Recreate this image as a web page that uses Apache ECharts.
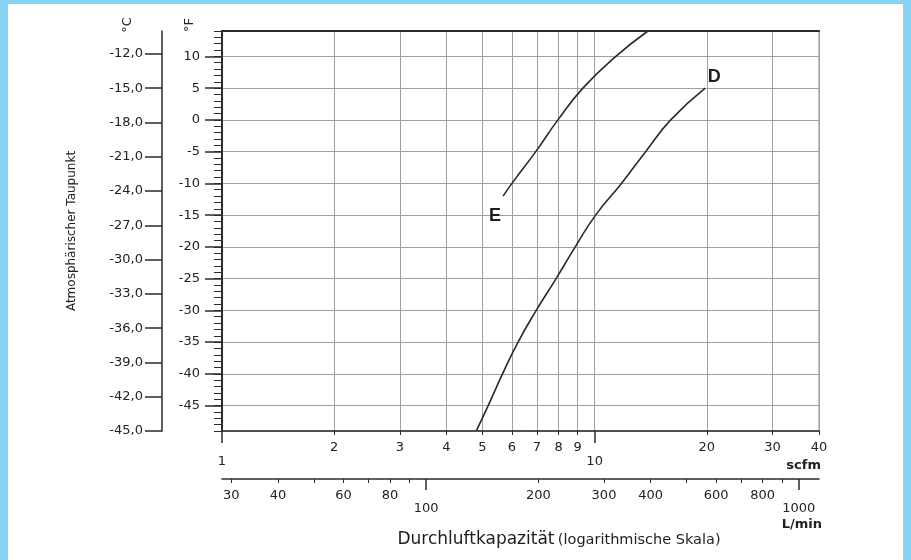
<!DOCTYPE html>
<html><head><meta charset="utf-8">
<script src="https://cdn.jsdelivr.net/npm/echarts@6/dist/echarts.min.js"></script>
<style>
html,body{margin:0;padding:0;background:#86d3f4;width:911px;height:560px;overflow:hidden;}
#chart{position:absolute;left:8px;top:4px;width:895px;height:556px;background:#fff;}
</style></head><body><div id="chart"></div>
<script>
// ---- data ----
const scfmMajorTicks = [1, 10];
const scfmMinorTicks = [2, 3, 4, 5, 6, 7, 8, 9, 20, 30, 40];
const lminMajorTicks = [100, 1000];
const lminMinorTicks = [30, 40, 50, 60, 70, 80, 90, 200, 300, 400, 500, 600, 700, 800, 900];
const lminMinorLabels = [30, 40, 60, 80, 200, 300, 400, 600, 800];
const fahrenheitTicks = [-45, -40, -35, -30, -25, -20, -15, -10, -5, 0, 5, 10];
const celsiusTicks = [-45, -42, -39, -36, -33, -30, -27, -24, -21, -18, -15, -12];
const curveE_scfm = [5.68, 6.0, 6.95, 7.97, 9.3, 11.4, 13.9];
const curveE_degF = [-12, -10, -5, 0, 5, 10, 14];
const curveD_scfm = [4.82, 5.18, 5.66, 6.23, 6.97, 7.88, 8.87, 10.06, 11.8, 13.7, 16.0, 19.8];
const curveD_degF = [-48.9, -45, -40, -35, -30, -25, -20, -15, -10, -5, 0, 5];
const curveNames = ['E', 'D'];

// ---- ranges ----
const LPM_PER_SCFM = 28.3168;
const SCFM_MIN = 1, SCFM_MAX = 40;
const C_MIN = -45, C_MAX = -10;
const F_MIN = C_MIN * 9 / 5 + 32, F_MAX = C_MAX * 9 / 5 + 32;

const FONT = 'DejaVu Sans';
const TXT = '#222';
const DARK = '#2b2b2b';
const GRIDC = '#a0a0a0';

function pairs(xs, ys) { return xs.map((x, i) => [x, ys[i]]); }
const lblStyle = { show: true, fontSize: 18, fontWeight: 'bold', color: '#1e1e1e', fontFamily: 'Liberation Sans' };
const dataE = pairs(curveE_scfm, curveE_degF).map((p, i) => i === 0
  ? { value: p, label: Object.assign({}, lblStyle, { formatter: curveNames[0], position: 'bottom', offset: [-8, 6] }) } : p);
const dataD = pairs(curveD_scfm, curveD_degF).map((p, i, a) => i === a.length - 1
  ? { value: p, label: Object.assign({}, lblStyle, { formatter: curveNames[1], position: 'top', offset: [9, 3] }) } : p);

const hidden = { show: false };
function logX(extra) {
  return Object.assign({
    type: 'log', logBase: 10, min: SCFM_MIN, max: SCFM_MAX, position: 'bottom',
    axisLine: { show: false, onZero: false }, axisTick: hidden, axisLabel: hidden, splitLine: hidden,
    minorTick: hidden, minorSplitLine: hidden
  }, extra);
}
const tickLbl = { fontFamily: FONT, fontSize: 13, color: TXT };

const option = {
  animation: false,
  backgroundColor: '#fff',
  grid: { left: 214, top: 27, width: 597, height: 400, show: true, borderColor: '#888', borderWidth: 1, backgroundColor: 'transparent' },
  xAxis: [
    // scfm major (1, 10)
    logX({
      axisLine: { show: true, onZero: false, lineStyle: { color: DARK, width: 1.5 } },
      axisTick: { show: true, customValues: scfmMajorTicks, length: 12, lineStyle: { color: DARK, width: 1.5 } },
      axisLabel: Object.assign({ show: true, customValues: scfmMajorTicks, margin: 10, lineHeight: 14, formatter: v => '\n' + v }, tickLbl),
      splitLine: { show: true, lineStyle: { color: GRIDC, width: 1 } }
    }),
    // scfm minor
    logX({
      axisTick: { show: true, customValues: scfmMinorTicks, length: 4, lineStyle: { color: DARK, width: 1 } },
      axisLabel: Object.assign({ show: true, customValues: scfmMinorTicks, margin: 10, lineHeight: 14 }, tickLbl),
      splitLine: { show: true, lineStyle: { color: GRIDC, width: 1 } }
    }),
    // L/min major
    logX({
      min: SCFM_MIN * LPM_PER_SCFM, max: SCFM_MAX * LPM_PER_SCFM, offset: 48,
      axisLine: { show: true, onZero: false, lineStyle: { color: DARK, width: 1.5 } },
      axisTick: { show: true, customValues: lminMajorTicks, length: 11, lineStyle: { color: DARK, width: 1.5 } },
      axisLabel: Object.assign({ show: true, customValues: lminMajorTicks, margin: 10, lineHeight: 13, formatter: v => '\n' + v }, tickLbl)
    }),
    // L/min minor
    logX({
      min: SCFM_MIN * LPM_PER_SCFM, max: SCFM_MAX * LPM_PER_SCFM, offset: 48,
      axisTick: { show: true, customValues: lminMinorTicks, length: 4, lineStyle: { color: DARK, width: 1 } },
      axisLabel: Object.assign({ show: true, customValues: lminMinorLabels, margin: 10 }, tickLbl)
    }),
    // top border
    logX({ position: 'top', axisLine: { show: true, onZero: false, lineStyle: { color: DARK, width: 2 } } })
  ],
  yAxis: [
    // °F major
    {
      type: 'value', min: F_MIN, max: F_MAX, position: 'left',
      axisLine: { show: true, onZero: false, lineStyle: { color: DARK, width: 2 } },
      axisTick: { show: true, customValues: fahrenheitTicks, length: 17, lineStyle: { color: DARK, width: 1.5 } },
      axisLabel: Object.assign({ show: true, customValues: fahrenheitTicks, margin: 22 }, tickLbl),
      splitLine: { show: true, lineStyle: { color: GRIDC, width: 1 } }
    },
    // °F minor (1 °F)
    {
      type: 'value', min: F_MIN, max: F_MAX, interval: 1, position: 'left',
      axisLine: { show: false, onZero: false }, axisLabel: hidden, splitLine: hidden,
      axisTick: { show: true, length: 8, lineStyle: { color: DARK, width: 1 } }
    },
    // °C
    {
      type: 'value', min: C_MIN, max: C_MAX, position: 'left', offset: 60,
      axisLine: { show: true, onZero: false, lineStyle: { color: DARK, width: 1.5 } },
      axisTick: { show: true, customValues: celsiusTicks, length: 17, lineStyle: { color: DARK, width: 1.5 } },
      axisLabel: Object.assign({ show: true, customValues: celsiusTicks, margin: 19, formatter: v => v.toFixed(1).replace('.', ',') }, tickLbl),
      splitLine: hidden
    }
  ],
  series: [
    { name: curveNames[0], type: 'line', xAxisIndex: 0, yAxisIndex: 0, data: dataE, smooth: true,
      symbol: 'circle', symbolSize: 0, showSymbol: true, lineStyle: { color: '#2a2a2a', width: 1.6 }, itemStyle: { color: '#2a2a2a' } },
    { name: curveNames[1], type: 'line', xAxisIndex: 0, yAxisIndex: 0, data: dataD, smooth: true,
      symbol: 'circle', symbolSize: 0, showSymbol: true, lineStyle: { color: '#2a2a2a', width: 1.6 }, itemStyle: { color: '#2a2a2a' } }
  ],
  graphic: [
    { type: 'text', x: 120, y: 21, rotation: Math.PI / 2, style: { text: '°C', fontFamily: FONT, fontSize: 13, fill: TXT, align: 'center', verticalAlign: 'middle' } },
    { type: 'text', x: 182, y: 21, rotation: Math.PI / 2, style: { text: '°F', fontFamily: FONT, fontSize: 13, fill: TXT, align: 'center', verticalAlign: 'middle' } },
    { type: 'text', x: 64, y: 227, rotation: Math.PI / 2, style: { text: 'Atmosphärischer Taupunkt', fontFamily: FONT, fontSize: 12, fill: TXT, align: 'center', verticalAlign: 'middle' } },
    { type: 'text', x: 813, y: 462, style: { text: 'scfm', fontFamily: FONT, fontSize: 13, fontWeight: 'bold', fill: TXT, align: 'right', verticalAlign: 'middle' } },
    { type: 'text', x: 814, y: 521, style: { text: 'L/min', fontFamily: FONT, fontSize: 13, fontWeight: 'bold', fill: TXT, align: 'right', verticalAlign: 'middle' } },
    { type: 'text', x: 551, y: 536, style: {
        text: '{a|Durchluftkapazität} {b|(logarithmische Skala)}', align: 'center', verticalAlign: 'middle',
        rich: { a: { fontFamily: FONT, fontSize: 17, fill: '#1e1e1e' }, b: { fontFamily: FONT, fontSize: 14.5, fill: '#1e1e1e' } } } }
  ]
};
echarts.init(document.getElementById('chart')).setOption(option);
</script></body></html>
